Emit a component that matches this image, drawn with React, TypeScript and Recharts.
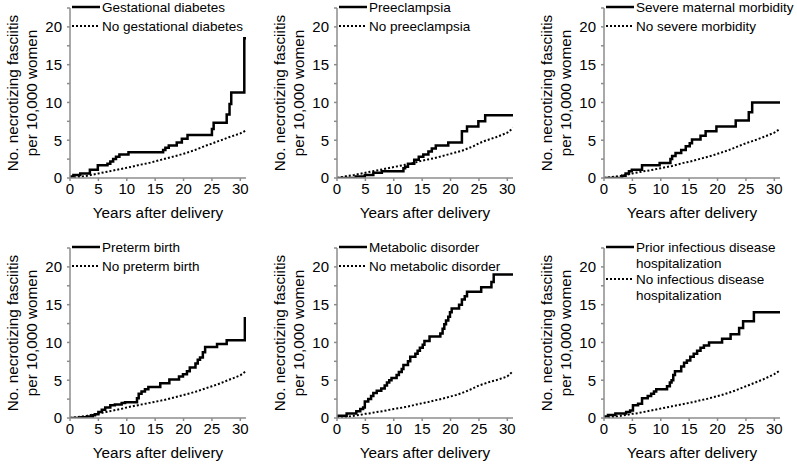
import React from 'react';
import { LineChart, Line, XAxis, YAxis } from 'recharts';

// years 0..31 for the reference (dotted) curves
const refYears = [0, 1, 2, 3, 4, 5, 6, 7, 8, 9, 10, 11, 12, 13, 14, 15, 16, 17, 18, 19, 20, 21, 22, 23, 24, 25, 26, 27, 28, 29, 30, 31];

const gdYears = [0, 0.6, 1.8, 3.5, 4.9, 6.6, 7.1, 7.6, 8.1, 8.7, 10.3, 16.4, 16.8, 17.4, 18.8, 19.7, 20.7, 25.0, 25.3, 27.6, 28.1, 28.4, 30.7, 31];
const gdRates = [0.2, 0.4, 0.6, 1.1, 1.7, 1.9, 2.2, 2.5, 2.8, 3.1, 3.4, 3.7, 4.0, 4.3, 4.7, 5.2, 5.7, 6.5, 7.3, 8.4, 9.8, 11.3, 18.5, 18.5];
const noGdRates = [0, 0.1, 0.2, 0.3, 0.45, 0.6, 0.75, 0.9, 1.05, 1.2, 1.35, 1.5, 1.7, 1.85, 2.0, 2.2, 2.4, 2.6, 2.8, 3.0, 3.2, 3.45, 3.7, 4.0, 4.3, 4.55, 4.85, 5.1, 5.4, 5.65, 5.9, 6.3];

const peYears = [0, 3.3, 4.9, 6.4, 7.9, 11.7, 12.0, 12.5, 13.6, 14.4, 15.2, 16.1, 16.7, 17.4, 19.6, 22.0, 22.9, 24.9, 26.1, 31];
const peRates = [0, 0.2, 0.4, 0.7, 0.9, 1.3, 1.5, 1.9, 2.4, 2.8, 3.1, 3.5, 3.9, 4.3, 4.7, 6.2, 6.8, 7.5, 8.3, 8.3];
const noPeRates = [0, 0.15, 0.3, 0.4, 0.55, 0.7, 0.85, 1.0, 1.15, 1.3, 1.45, 1.6, 1.75, 1.9, 2.1, 2.3, 2.45, 2.6, 2.8, 3.0, 3.2, 3.4, 3.6, 3.9, 4.2, 4.6, 4.9, 5.15, 5.4, 5.7, 6.0, 6.6];

const smmYears = [0, 3.2, 3.8, 4.4, 4.9, 6.7, 9.8, 11.7, 12.0, 12.6, 13.6, 14.4, 15.1, 15.5, 17.0, 17.9, 19.8, 23.2, 25.5, 26.1, 31];
const smmRates = [0, 0.3, 0.6, 0.9, 1.1, 1.7, 2.0, 2.5, 2.9, 3.3, 3.7, 4.2, 4.6, 5.1, 5.6, 6.2, 6.8, 7.6, 8.7, 10.0, 10.0];
const noSmmRates = [0, 0.1, 0.2, 0.3, 0.45, 0.6, 0.75, 0.9, 1.0, 1.15, 1.3, 1.45, 1.6, 1.8, 2.0, 2.15, 2.35, 2.55, 2.75, 2.95, 3.2, 3.45, 3.7, 4.0, 4.3, 4.6, 4.85, 5.1, 5.4, 5.7, 6.0, 6.5];

const ptbYears = [0, 2.0, 3.0, 4.0, 4.4, 5.0, 5.6, 6.2, 7.1, 7.9, 9.1, 9.7, 11.8, 12.1, 12.6, 13.2, 13.8, 15.9, 17.5, 19.2, 19.9, 20.6, 21.1, 22.1, 22.5, 22.9, 23.4, 23.8, 25.9, 27.6, 30.8, 31];
const ptbRates = [0, 0.1, 0.2, 0.35, 0.5, 0.8, 1.1, 1.4, 1.7, 1.8, 2.0, 2.1, 2.6, 3.2, 3.5, 3.8, 4.1, 4.6, 5.1, 5.5, 5.8, 6.2, 6.7, 7.2, 7.7, 8.0, 8.7, 9.4, 9.8, 10.3, 13.2, 13.2];
const noPtbRates = [0, 0.1, 0.2, 0.3, 0.45, 0.6, 0.75, 0.9, 1.05, 1.2, 1.4, 1.55, 1.7, 1.85, 2.0, 2.15, 2.3, 2.45, 2.65, 2.85, 3.05, 3.25, 3.45, 3.7, 3.95, 4.2, 4.45, 4.75, 5.05, 5.35, 5.65, 6.2];

const mdYears = [0, 1.7, 3.4, 4.1, 4.6, 4.9, 5.5, 6.0, 6.4, 7.0, 7.8, 8.4, 8.8, 9.2, 9.6, 10.5, 10.9, 11.4, 11.7, 12.5, 12.9, 13.8, 14.2, 14.6, 15.1, 15.4, 16.3, 18.2, 18.6, 18.9, 19.2, 19.6, 19.9, 20.2, 21.5, 22.0, 22.5, 22.9, 25.4, 27.2, 27.6, 31];
const mdRates = [0.3, 0.6, 0.9, 1.2, 1.4, 2.2, 2.5, 2.9, 3.3, 3.6, 3.9, 4.3, 4.7, 5.0, 5.3, 5.7, 6.1, 6.5, 7.0, 7.5, 8.1, 8.5, 8.9, 9.3, 9.7, 10.2, 10.8, 11.2, 11.8, 12.4, 12.9, 13.4, 14.0, 14.5, 15.0, 15.7, 16.1, 16.7, 17.3, 18.0, 19.0, 19.0];
const noMdRates = [0, 0.1, 0.2, 0.3, 0.4, 0.55, 0.65, 0.8, 0.9, 1.05, 1.2, 1.3, 1.45, 1.6, 1.8, 1.95, 2.1, 2.3, 2.45, 2.65, 2.85, 3.05, 3.3, 3.6, 3.95, 4.3, 4.55, 4.8, 5.0, 5.25, 5.5, 6.2];

const idYears = [0, 0.7, 2.0, 3.9, 4.6, 5.1, 6.0, 6.7, 7.7, 8.3, 8.8, 9.2, 11.1, 11.6, 11.9, 12.2, 12.5, 13.6, 14.1, 14.6, 15.2, 15.8, 16.4, 17.0, 17.6, 18.5, 20.8, 22.3, 23.8, 24.5, 26.4, 31];
const idRates = [0.2, 0.4, 0.6, 0.8, 1.0, 1.7, 1.9, 2.6, 2.9, 3.2, 3.5, 3.8, 4.2, 4.7, 5.0, 5.7, 6.2, 6.8, 7.3, 7.6, 8.1, 8.5, 8.9, 9.3, 9.6, 10.0, 10.5, 11.1, 11.9, 12.8, 14.0, 14.0];
const noIdRates = [0, 0.1, 0.2, 0.3, 0.4, 0.55, 0.65, 0.8, 0.95, 1.1, 1.25, 1.4, 1.55, 1.7, 1.85, 2.0, 2.15, 2.35, 2.5, 2.7, 2.9, 3.1, 3.35, 3.6, 3.9, 4.2, 4.5, 4.8, 5.1, 5.45, 5.8, 6.3];

const exposedLabels = ['Gestational diabetes', 'Preeclampsia', 'Severe maternal morbidity', 'Preterm birth', 'Metabolic disorder', 'Prior infectious disease hospitalization'];
const unexposedLabels = ['No gestational diabetes', 'No preeclampsia', 'No severe morbidity', 'No preterm birth', 'No metabolic disorder', 'No infectious disease hospitalization'];

const xTicks = [0, 5, 10, 15, 20, 25, 30];
const yTicks = [0, 2.5, 5, 7.5, 10, 12.5, 15, 17.5, 20, 22.5];
const yTitle = ['No. necrotizing fasciitis', 'per 10,000 women'];
const xTitle = 'Years after delivery';

const toPoints = (years: number[], rates: number[]) => years.map((t, i) => ({ t, v: rates[i] }));

const panels = [
  { exposed: toPoints(gdYears, gdRates), unexposed: toPoints(refYears, noGdRates) },
  { exposed: toPoints(peYears, peRates), unexposed: toPoints(refYears, noPeRates) },
  { exposed: toPoints(smmYears, smmRates), unexposed: toPoints(refYears, noSmmRates) },
  { exposed: toPoints(ptbYears, ptbRates), unexposed: toPoints(refYears, noPtbRates) },
  { exposed: toPoints(mdYears, mdRates), unexposed: toPoints(refYears, noMdRates) },
  { exposed: toPoints(idYears, idRates), unexposed: toPoints(refYears, noIdRates) },
];

const FONT = '"Liberation Sans", Arial, sans-serif';
const AXIS = '#8c8c8c';
const W = 262;
const H = 232;

// greedy word wrap for the long legend labels
const wrapWords = (label: string, maxChars: number) => {
  const lines: string[] = [];
  let cur = '';
  label.split(' ').forEach((w) => {
    const next = cur ? `${cur} ${w}` : w;
    if (next.length > maxChars && cur) {
      lines.push(cur);
      cur = w;
    } else {
      cur = next;
    }
  });
  if (cur) lines.push(cur);
  return lines;
};

const YTitle = (props: any) => {
  const { viewBox } = props;
  const cy = viewBox.y + viewBox.height / 2;
  return (
    <g>
      {yTitle.map((s, i) => {
        const x = viewBox.x + 18 + i * 18.5;
        return (
          <text key={s} x={x} y={cy} transform={`rotate(-90, ${x}, ${cy})`} textAnchor="middle"
            fontSize={15.3} fontFamily={FONT} fill="#000">{s}</text>
        );
      })}
    </g>
  );
};

const XTitle = (props: any) => {
  const { viewBox } = props;
  return (
    <text x={viewBox.x + viewBox.width / 2} y={viewBox.y + 40} textAnchor="middle"
      fontSize={15.3} fontFamily={FONT} fill="#000">{xTitle}</text>
  );
};

const LegendBox = ({ idx }: { idx: number }) => {
  const wrap = idx === 5;
  const lh = wrap ? 16 : 19;
  const items = [
    { lines: wrap ? wrapWords(exposedLabels[idx], 24) : [exposedLabels[idx]], dash: undefined, width: 2.5 },
    { lines: wrap ? wrapWords(unexposedLabels[idx], 24) : [unexposedLabels[idx]], dash: '2 2', width: 2 },
  ];
  let row = 0;
  return (
    <svg width={300} height={70} style={{ position: 'absolute', left: 0, top: 0, overflow: 'visible' }}>
      {items.map((it) => {
        const cy = 7 + row * lh;
        row += it.lines.length;
        return (
          <g key={it.lines[0]}>
            <line x1={72} x2={100} y1={cy} y2={cy} stroke="#000" strokeWidth={it.width} strokeDasharray={it.dash} />
            {it.lines.map((s, j) => (
              <text key={s + j} x={102} y={cy + j * lh + 5} fontSize={13.5} fontFamily={FONT} fill="#000">{s}</text>
            ))}
          </g>
        );
      })}
    </svg>
  );
};

const Panel = ({ idx, left, top }: { idx: number; left: number; top: number }) => {
  const p = panels[idx];
  return (
    <div style={{ position: 'absolute', left, top, width: W, height: H }}>
      <LineChart width={W} height={H} margin={{ top: 8, right: 16, bottom: 0, left: 0 }}>
        <XAxis type="number" dataKey="t" domain={[0, 31]} ticks={xTicks} allowDataOverflow
          height={54} stroke={AXIS} strokeWidth={1.5} tickSize={3} tickMargin={2}
          tick={{ fill: '#000', fontSize: 15, fontFamily: FONT }} label={<XTitle />} />
        <YAxis type="number" domain={[0, 22.5]} ticks={yTicks} allowDataOverflow
          width={70} stroke={AXIS} strokeWidth={1.5} tickSize={3} tickMargin={5}
          tickFormatter={(v: number) => (v % 5 === 0 ? String(v) : '')}
          tick={{ fill: '#000', fontSize: 15, fontFamily: FONT }} label={<YTitle />} />
        <Line data={p.unexposed} dataKey="v" type="linear" stroke="#000" strokeWidth={2}
          strokeDasharray="2 2" dot={false} activeDot={false} isAnimationActive={false} />
        <Line data={p.exposed} dataKey="v" type="stepAfter" stroke="#000" strokeWidth={2.5}
          dot={false} activeDot={false} isAnimationActive={false} />
      </LineChart>
      <LegendBox idx={idx} />
    </div>
  );
};

const colX = [0, 267, 534];
const rowY = [0, 240];

const App: React.FC = () => (
  <div style={{ position: 'absolute', left: 0, top: 0, width: 797, height: 465, background: '#fff', overflow: 'hidden' }}>
    {[0, 1, 2, 3, 4, 5].map((i) => (
      <Panel key={i} idx={i} left={colX[i % 3]} top={rowY[Math.floor(i / 3)]} />
    ))}
  </div>
);

export default App;
